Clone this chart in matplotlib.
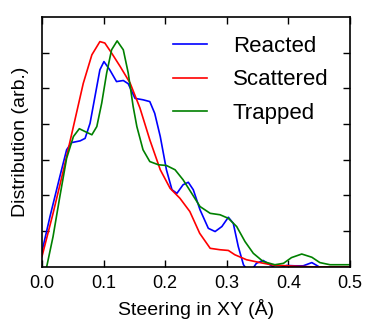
import numpy as np
import matplotlib
matplotlib.use("Agg")
import matplotlib.pyplot as plt

# values (x in Angstrom, y in arbitrary units)
react_x = [0.0, 0.013, 0.029, 0.040, 0.048, 0.062, 0.070, 0.078, 0.086, 0.094, 0.1006,
           0.110, 0.121, 0.132, 0.140, 0.151, 0.164, 0.175, 0.183, 0.192, 0.202, 0.211,
           0.219, 0.229, 0.2375, 0.2456, 0.2565, 0.270, 0.281, 0.292, 0.3025, 0.3105,
           0.3186, 0.327, 0.334, 0.342, 0.348, 0.359, 0.370, 0.380, 0.388, 0.397, 0.41,
           0.424, 0.438, 0.45, 0.46, 0.5]
react_y = [0.43, 1.41, 2.53, 3.28, 3.48, 3.53, 3.6, 4.02, 4.77, 5.52, 5.75,
           5.52, 5.19, 5.22, 5.13, 4.72, 4.68, 4.63, 4.3, 3.65, 2.72, 2.16,
           2.06, 2.30, 2.37, 2.16, 1.6, 1.08, 0.99, 1.13, 1.39, 1.22,
           0.57, 0.06, -0.1, -0.05, 0.1, 0.18, 0.06, -0.05, -0.02, 0.04, 0.03,
           0.03, 0.12, 0.0, -0.03, -0.03]

scat_x = [0.0, 0.018, 0.035, 0.051, 0.067, 0.081, 0.094, 0.102, 0.113, 0.127, 0.143,
          0.159, 0.175, 0.192, 0.208, 0.224, 0.240, 0.256, 0.273, 0.289, 0.3025, 0.313,
          0.332, 0.354, 0.375, 0.41, 0.44, 0.5]
scat_y = [0.29, 1.5, 2.72, 3.93, 5.14, 5.94, 6.31, 6.27, 5.99, 5.61, 5.15,
          4.45, 3.56, 2.72, 2.2, 1.92, 1.55, 0.94, 0.52, 0.48, 0.46, 0.34,
          0.2, 0.12, 0.05, 0.02, 0.0, 0.0]

trap_x = [0.0, 0.0076, 0.018, 0.029, 0.040, 0.051, 0.0606, 0.070, 0.081, 0.089, 0.097,
          0.105, 0.113, 0.122, 0.132, 0.140, 0.148, 0.154, 0.164, 0.175, 0.189, 0.202,
          0.216, 0.229, 0.243, 0.2565, 0.273, 0.289, 0.3025, 0.316, 0.3295, 0.343,
          0.359, 0.378, 0.392, 0.405, 0.4216, 0.438, 0.451, 0.4675, 0.5]
trap_y = [-0.6, 0.0, 0.85, 1.97, 3.04, 3.65, 3.87, 3.79, 3.7, 3.93, 4.59,
          5.43, 6.08, 6.33, 6.08, 5.43, 4.49, 3.93, 3.28, 2.95, 2.86, 2.84,
          2.72, 2.44, 2.06, 1.69, 1.5, 1.46, 1.36, 1.13, 0.71, 0.38,
          0.15, 0.06, 0.1, 0.26, 0.36, 0.27, 0.12, 0.06, 0.06]

plt.rcParams["font.family"] = ["Liberation Sans", "DejaVu Sans"]

fig = plt.figure(figsize=(3.65, 3.2), dpi=100)
ax = fig.add_axes([0.115, 0.166, 0.844, 0.781])

ax.plot(react_x, react_y, color="b", lw=1.2, label="Reacted")
ax.plot(scat_x, scat_y, color="r", lw=1.2, label="Scattered")
ax.plot(trap_x, trap_y, color="g", lw=1.2, label="Trapped")

ax.set_xlim(0, 0.5)
ax.set_ylim(0, 7)
ax.set_xticks([0.0, 0.1, 0.2, 0.3, 0.4, 0.5])
ax.set_yticks([1, 2, 3, 4, 5, 6])
ax.set_yticklabels([])
ax.tick_params(direction="in", top=True, right=True, length=5, width=1, labelsize=13, pad=6)
for s in ax.spines.values():
    s.set_linewidth(1.2)

ax.set_xlabel("Steering in XY (Å)", fontsize=14, labelpad=5)
ax.set_ylabel("Distribution (arb.)", fontsize=14, labelpad=3)

ax.legend(loc="upper right", bbox_to_anchor=(0.98, 0.985), frameon=False, fontsize=16,
          handlelength=1.55, handletextpad=1.15, labelspacing=0.55, borderaxespad=0.3)

fig.savefig("out.png", dpi=100)
